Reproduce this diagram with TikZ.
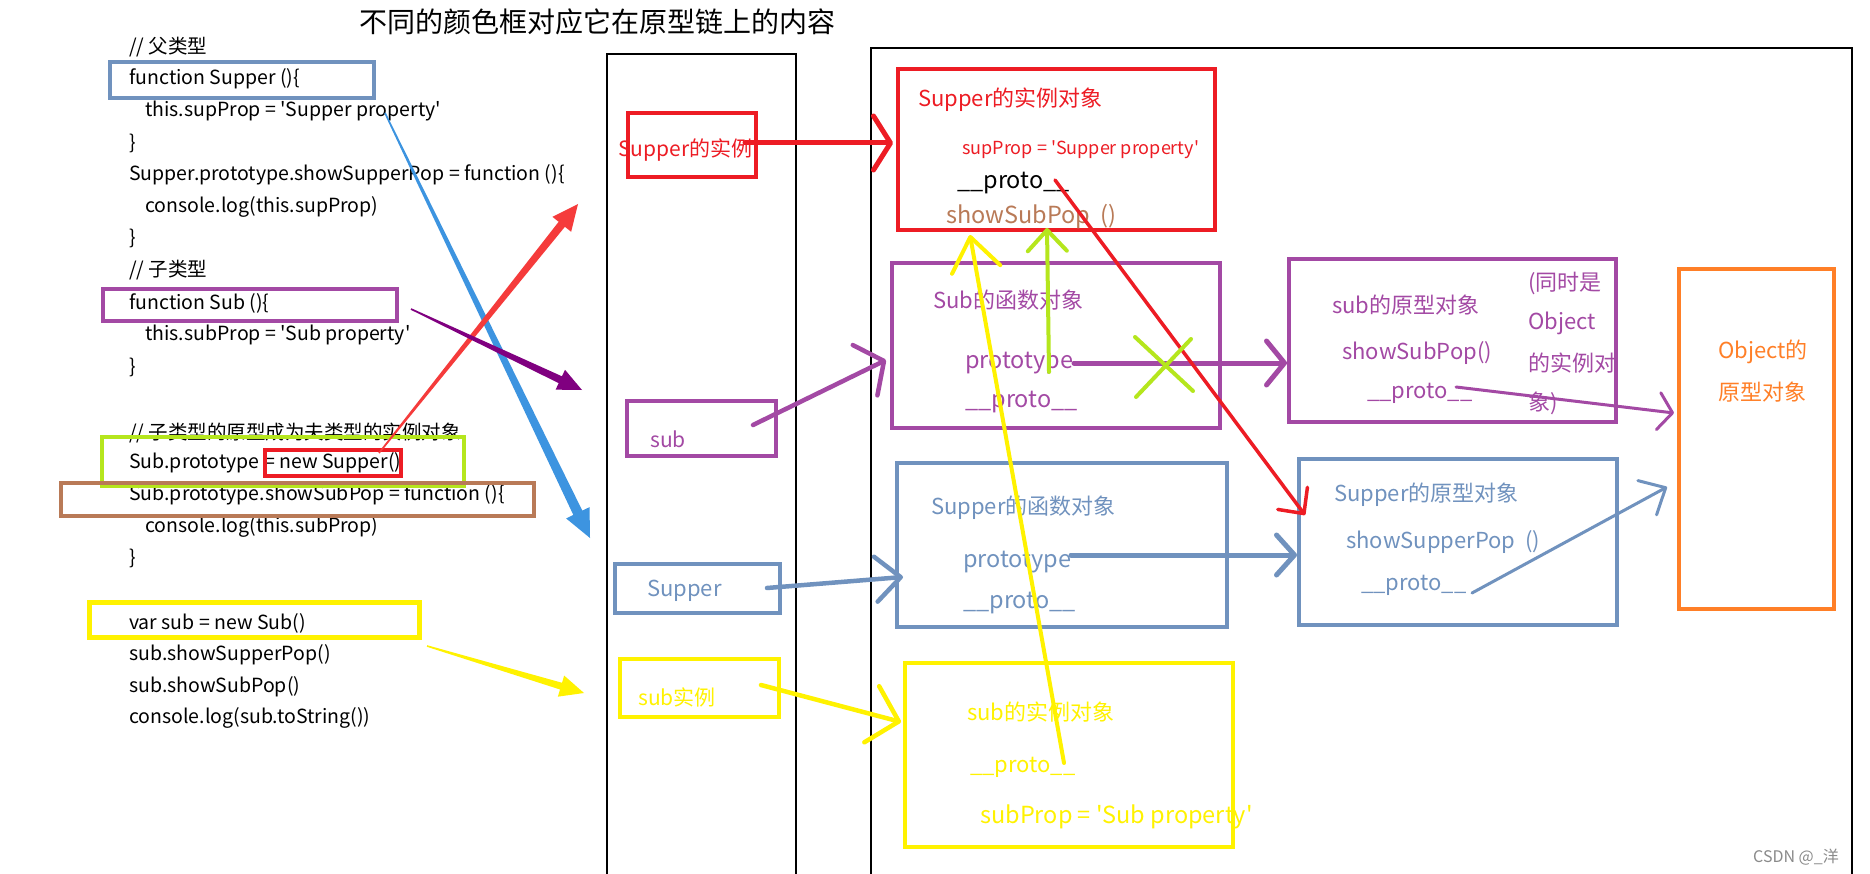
\documentclass[tikz,border=0pt]{standalone}
\usepackage{fontspec}
\setmainfont{Noto Sans CJK SC}
\usetikzlibrary{calc,arrows.meta}
\definecolor{pred}{HTML}{ED1C24}
\definecolor{pyel}{HTML}{FFF200}
\definecolor{plime}{HTML}{B5E61D}
\definecolor{pbrown}{HTML}{B97A57}
\definecolor{pblue}{HTML}{7092BE}
\definecolor{ppurp}{HTML}{A349A4}
\definecolor{porange}{HTML}{FF7F27}
\definecolor{skyblue}{HTML}{3D94E0}
\definecolor{lred}{HTML}{F53B3B}
\definecolor{dpurp}{HTML}{800080}
\definecolor{wmgray}{HTML}{8A8A8A}
\newcommand\sq{\textquotesingle}
% paint-style tapered arrow: #1 start, #2 tip, #3 colour, #4 start half width, #5 shaft half width, #6 head length, #7 head half width
\newcommand\paintarrow[7]{%
  \coordinate (#1-h) at ($(#2)!#6!(#1)$);
  \fill[#3] ($(#1)!#4!90:(#2)$) -- ($(#1-h)!#5!90:(#2)$) -- ($(#1-h)!#7!90:(#2)$) -- (#2)
    -- ($(#1-h)!#7!-90:(#2)$) -- ($(#1-h)!#5!-90:(#2)$) -- ($(#1)!#4!-90:(#2)$) -- cycle;}
\begin{document}
\begin{tikzpicture}[x=1pt,y=-1pt,
  cbox/.style={draw=#1, line width=4pt, inner sep=0pt},
  obox/.style={draw=#1, line width=3.5pt, inner sep=0pt},
  code/.style={anchor=west, inner sep=0pt, font=\fontsize{19.5}{22}\selectfont},
  lbl/.style={anchor=west, inner sep=0pt, text=#1, font=\fontsize{22}{26}\selectfont},
  big/.style={anchor=west, inner sep=0pt, text=#1, font=\fontsize{23.5}{27}\selectfont},
  small/.style={anchor=west, inner sep=0pt, text=#1, font=\fontsize{18}{22}\selectfont},
  sk/.style={draw=#1, line width=4.5pt, line cap=round, line join=round},
  col/.style={draw=black, line width=1.2pt}]
\useasboundingbox (0,0) rectangle (1870,874);
\fill[white] (0,0) rectangle (1870,874);

% title
\node[anchor=west, inner sep=0pt, font=\fontsize{28}{31}\selectfont] (title) at (359,22) {不同的颜色框对应它在原型链上的内容};

% columns
\coordinate (c1a) at (607,880); \coordinate (c1b) at (607,54); \coordinate (c1c) at (796,54); \coordinate (c1d) at (796,880);
\draw[col] (c1a) -- (c1b) -- (c1c) -- (c1d);
\coordinate (c2a) at (871,880); \coordinate (c2b) at (871,48); \coordinate (c2c) at (1852,48); \coordinate (c2d) at (1852,880);
\draw[col] (c2a) -- (c2b) -- (c2c) -- (c2d);

% code lines
\node[code] (l1) at (129,47) {// 父类型};
\node[code] (l2) at (129,79) {function Supper ()\{};
\node[code] (l3) at (145,111) {this.supProp = \sq Supper property\sq};
\node[code] (l4) at (129,143) {\}};
\node[code] (l5) at (129,175) {Supper.prototype.showSupperPop = function ()\{};
\node[code] (l6) at (145,207) {console.log(this.supProp)};
\node[code] (l7) at (129,238) {\}};
\node[code] (l8) at (129,270) {// 子类型};
\node[code] (l9) at (129,303) {function Sub ()\{};
\node[code] (l10) at (145,335) {this.subProp = \sq Sub property\sq};
\node[code] (l11) at (129,367) {\}};
\node[code] (l12) at (129,433) {// 子类型的原型成为夫类型的实例对象};
\node[code] (l13) at (129,463) {Sub.prototype = new Supper()};
\node[code] (l14) at (129,495) {Sub.prototype.showSubPop = function ()\{};
\node[code] (l15) at (145,527) {console.log(this.subProp)};
\node[code] (l16) at (129,558) {\}};
\node[code] (l17) at (129,623) {var sub = new Sub()};
\node[code] (l18) at (129,655) {sub.showSupperPop()};
\node[code] (l19) at (129,687) {sub.showSubPop()};
\node[code] (l20) at (129,718) {console.log(sub.toString())};

% code boxes
\node[cbox=pblue, minimum width=264, minimum height=36] (bSup) at (242,80) {};
\node[cbox=ppurp, minimum width=294, minimum height=32] (bSub) at (250,305) {};
\node[cbox=plime, minimum width=362, minimum height=49] (bLime) at (283,461.5) {};
\node[cbox=pred, minimum width=136, minimum height=26] (bNew) at (333,463) {};
\node[cbox=pbrown, minimum width=473, minimum height=33] (bBrown) at (297.5,499.5) {};
\node[cbox=pyel, line width=5pt, minimum width=330, minimum height=35] (bYel) at (254,619.5) {};

% middle column boxes
\node[obox=pred, minimum width=128, minimum height=64] (mSupI) at (692,145) {};
\node[obox=ppurp, minimum width=149, minimum height=55] (mSub) at (701.5,428.5) {};
\node[obox=pblue, minimum width=165, minimum height=49] (mSup) at (697.5,588.5) {};
\node[obox=pyel, minimum width=159, minimum height=58] (mSubI) at (699.5,688) {};
\node[lbl=pred, font=\fontsize{21}{24}\selectfont] (tSupI) at (618,150) {Supper的实例};
\node[lbl=ppurp, font=\fontsize{21}{24}\selectfont] (tSub) at (650,439) {sub};
\node[lbl=pblue] (tSup) at (647,591) {Supper};
\node[lbl=pyel, font=\fontsize{21}{24}\selectfont] (tSubI) at (638,697) {sub实例};

% right boxes
\node[obox=pred, minimum width=317, minimum height=161] (rSupInst) at (1056.5,149.5) {};
\node[obox=ppurp, minimum width=328, minimum height=165] (rSubFn) at (1056,345.5) {};
\node[obox=ppurp, minimum width=327, minimum height=163] (rSubProto) at (1452.5,340.5) {};
\node[obox=pblue, minimum width=330, minimum height=164] (rSupFn) at (1062,545) {};
\node[obox=pblue, minimum width=318, minimum height=166] (rSupProto) at (1458,542) {};
\node[obox=pyel, minimum width=328, minimum height=184] (rSubInst) at (1069,755) {};
\node[obox=porange, minimum width=155, minimum height=340] (rObj) at (1756.5,439) {};

% texts in red box
\node[lbl=pred] (r1) at (918,100) {Supper的实例对象};
\node[small=pred] (r2) at (962,150) {supProp = \sq Supper property\sq};
\node[big=black] (r3) at (957,183) {\_\_proto\_\_};
\node[big=pbrown] (r4) at (946,217) {showSubPop\ \ ()};
% Sub function object
\node[lbl=ppurp] (s1) at (933,300) {Sub的函数对象};
\node[big=ppurp] (s2) at (965,363) {prototype};
\node[big=ppurp] (s3) at (965,402) {\_\_proto\_\_};
% sub prototype object
\node[lbl=ppurp] (p1) at (1332,305) {sub的原型对象};
\node[lbl=ppurp] (p2) at (1342,353) {showSubPop()};
\node[lbl=ppurp] (p3) at (1367,393) {\_\_proto\_\_};
\node[lbl=ppurp] (p4) at (1528,283) {(同时是};
\node[lbl=ppurp] (p5) at (1528,323) {Object};
\node[lbl=ppurp] (p6) at (1528,363) {的实例对};
\node[lbl=ppurp] (p7) at (1528,403) {象)};
% Supper function object
\node[lbl=pblue] (f1) at (931,508) {Supper的函数对象};
\node[big=pblue] (f2) at (963,562) {prototype};
\node[big=pblue] (f3) at (963,603) {\_\_proto\_\_};
% Supper prototype object
\node[lbl=pblue] (q1) at (1334,495) {Supper的原型对象};
\node[lbl=pblue] (q2) at (1346,542) {showSupperPop\ \ ()};
\node[lbl=pblue] (q3) at (1361,585) {\_\_proto\_\_};
% sub instance object
\node[lbl=pyel] (i1) at (967,712) {sub的实例对象};
\node[lbl=pyel] (i2) at (970,767) {\_\_proto\_\_};
\node[big=pyel] (i3) at (980,817) {subProp = \sq Sub property\sq};
% Object prototype
\node[lbl=porange] (o1) at (1718,352) {Object的};
\node[lbl=porange] (o2) at (1718,392) {原型对象};

% watermark
\node[anchor=west, inner sep=0pt, text=wmgray, font=\fontsize{16}{18}\selectfont] (wm) at (1753,857) {CSDN @\_洋};

% paint-style tapered arrows
\coordinate (pa1) at (385,113); \coordinate (pa1t) at (590,538);
\paintarrow{pa1}{pa1t}{skyblue}{0.8pt}{5pt}{28pt}{13pt}
\coordinate (pa2) at (379,453); \coordinate (pa2t) at (578,204);
\paintarrow{pa2}{pa2t}{lred}{0.8pt}{4pt}{26pt}{12pt}
\coordinate (pa3) at (411,309); \coordinate (pa3t) at (582,390);
\paintarrow{pa3}{pa3t}{dpurp}{0.8pt}{3.8pt}{24pt}{11pt}
\coordinate (pa4) at (427,646); \coordinate (pa4t) at (584,693);
\paintarrow{pa4}{pa4t}{pyel}{0.8pt}{3.5pt}{24pt}{11pt}

% sketch arrows
\coordinate (a5s) at (745,143); \coordinate (a5e) at (893,143);
\draw[sk=pred, line width=5pt, -{Straight Barb[round,length=17pt,width=54pt]}] (a5s) -- (a5e);
\coordinate (a6s) at (753,425); \coordinate (a6e) at (886,360);
\draw[sk=ppurp, -{Straight Barb[round,length=21pt,width=56pt]}] (a6s) -- (a6e);
\coordinate (a7s) at (767,588); \coordinate (a7e) at (903,577);
\draw[sk=pblue, -{Straight Barb[round,length=25pt,width=45pt]}] (a7s) -- (a7e);
\coordinate (a8s) at (761,685); \coordinate (a8e) at (901,722);
\draw[sk=pyel, -{Straight Barb[round,length=28pt,width=58pt]}] (a8s) -- (a8e);
\coordinate (a9s) at (1074,363); \coordinate (a9e) at (1287,363);
\draw[sk=ppurp, line width=5pt, -{Straight Barb[round,length=18pt,width=44pt]}] (a9s) -- (a9e);
\coordinate (a11s) at (1049,372); \coordinate (a11e) at (1047,228);
\draw[sk=plime, line width=4pt, -{Straight Barb[round,length=21pt,width=39pt]}] (a11s) -- (a11e);
\coordinate (a12s) at (1064,763); \coordinate (a12e) at (970,235);
\draw[sk=pyel, line width=4pt, -{Straight Barb[round,length=33pt,width=49pt]}] (a12s) -- (a12e);
\coordinate (a13s) at (1055,180); \coordinate (a13e) at (1305,515);
\draw[sk=pred, line width=3.5pt, -{Straight Barb[round,length=19pt,width=37pt]}] (a13s) -- (a13e);
\coordinate (a14s) at (1071,555); \coordinate (a14e) at (1297,555);
\draw[sk=pblue, line width=5pt, -{Straight Barb[round,length=18pt,width=40pt]}] (a14s) -- (a14e);
\coordinate (a15s) at (1456,387); \coordinate (a15e) at (1674,413);
\draw[sk=ppurp, line width=3pt, -{Straight Barb[round,length=14pt,width=37pt]}] (a15s) -- (a15e);
\coordinate (a16s) at (1472,593); \coordinate (a16e) at (1667,487);
\draw[sk=pblue, line width=3pt, -{Straight Barb[round,length=21pt,width=39pt]}] (a16s) -- (a16e);
% cross over the prototype link
\coordinate (x1a) at (1135,337); \coordinate (x1b) at (1193,391);
\coordinate (x2a) at (1191,339); \coordinate (x2b) at (1136,397);
\draw[sk=plime, line width=4pt] (x1a) -- (x1b);
\draw[sk=plime, line width=4pt] (x2a) -- (x2b);
\end{tikzpicture}
\end{document}
